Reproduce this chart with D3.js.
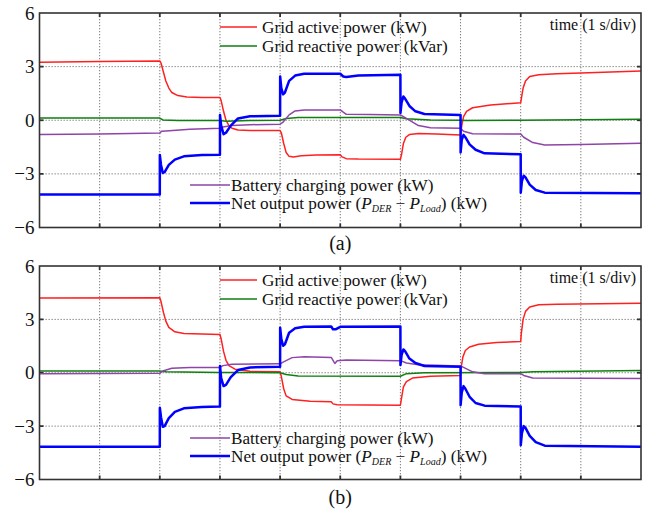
<!DOCTYPE html>
<html>
<head>
<meta charset="utf-8">
<script src="https://cdn.jsdelivr.net/npm/d3@7"></script>
<style>
  body { margin: 0; background: #fff; }
  svg text { font-family: "Palatino Linotype", "Book Antiqua", Palatino, "Liberation Serif", serif; fill: #111; }
</style>
</head>
<body>
<div id="chart-div"></div>
<script>
// time (s), power (kW / kVar)
const yTicks = [-6, -3, 0, 3, 6];
const yTickLabels = ["\u22126", "\u22123", "0", "3", "6"];
const timeDivs = [0, 1, 2, 3, 4, 5, 6, 7, 8, 9, 10];

const gridActiveA = [[0,3.25],[1,3.28],[2,3.32],[2.02,3.2],[2.06,2.7],[2.1,2.2],[2.15,1.8],[2.2,1.55],[2.3,1.38],[2.45,1.3],[2.7,1.27],[3,1.27],
  [3.02,1.1],[3.06,0.5],[3.1,0.0],[3.15,-0.3],[3.2,-0.45],[3.3,-0.55],[3.5,-0.58],[4,-0.58],[4.02,-0.7],[4.06,-1.3],[4.1,-1.8],[4.15,-2.02],
  [4.22,-2.05],[4.35,-1.98],[4.6,-1.95],[5,-1.93],[5.03,-2.05],[5.1,-2.15],[5.3,-2.17],[6,-2.18],[6.02,-1.9],[6.05,-1.3],[6.09,-0.95],
  [6.15,-0.8],[6.3,-0.74],[6.6,-0.77],[7,-0.82],[7.02,-0.3],[7.05,0.2],[7.1,0.5],[7.2,0.7],[7.5,0.85],[8,0.98],[8.01,1.2],[8.04,1.8],
  [8.08,2.2],[8.15,2.45],[8.3,2.55],[8.6,2.6],[9,2.65],[10,2.75]];
const gridReactiveA = [[0,0.12],[2,0.12],[2.05,0.02],[2.3,-0.02],[3,-0.02],[3.1,-0.05],[3.5,-0.02],[4,0.0],[4.1,0.1],[4.3,0.15],
  [6,0.15],[6.1,0.08],[6.5,0.02],[7,0.0],[7.1,-0.02],[8,0.0],[10,0.05]];
const batteryA = [[0,-0.8],[1,-0.77],[2,-0.72],[2.03,-0.62],[2.1,-0.6],[2.5,-0.5],[3,-0.45],[3.05,-0.38],[3.2,-0.3],[3.5,-0.25],[4,-0.22],
  [4.05,-0.1],[4.15,0.3],[4.25,0.52],[4.4,0.58],[5,0.58],[5.05,0.45],[5.1,0.33],[5.5,0.32],[6,0.3],[6.1,0.1],[6.3,-0.3],[6.5,-0.42],
  [7,-0.45],[7.05,-0.62],[7.2,-0.75],[8,-0.77],[8.05,-0.95],[8.2,-1.25],[8.4,-1.38],[9,-1.35],[10,-1.28]];
const netOutputA = [[0,-4.15],[2,-4.15],[2.001,-1.95],[2.02,-2.5],[2.05,-2.95],[2.08,-2.9],[2.15,-2.5],[2.25,-2.2],[2.4,-2.02],[2.7,-1.95],
  [3,-1.93],[3.001,0.3],[3.02,-0.3],[3.06,-0.78],[3.1,-0.7],[3.18,-0.3],[3.3,0.1],[3.5,0.22],[4,0.25],[4.001,2.45],[4.02,1.8],[4.05,1.45],
  [4.08,1.55],[4.15,2.2],[4.25,2.5],[4.4,2.6],[5,2.6],[5.05,2.45],[5.1,2.42],[5.3,2.5],[6,2.55],[6.001,0.4],[6.02,1.0],[6.05,1.33],
  [6.08,1.2],[6.15,0.8],[6.25,0.5],[6.4,0.35],[7,0.3],[7.001,-1.8],[7.02,-1.1],[7.05,-0.82],[7.08,-0.95],[7.15,-1.35],[7.25,-1.65],
  [7.4,-1.85],[8,-1.9],[8.001,-4.05],[8.02,-3.4],[8.05,-3.1],[8.08,-3.2],[8.15,-3.6],[8.25,-3.9],[8.4,-4.05],[10,-4.08]];

const gridActiveB = [[0,4.2],[2,4.22],[2.02,4.0],[2.06,3.4],[2.1,2.9],[2.15,2.55],[2.25,2.3],[2.4,2.2],[3,2.15],[3.02,1.9],[3.06,1.2],
  [3.1,0.7],[3.15,0.4],[3.25,0.2],[3.5,0.08],[4,0.05],[4.02,-0.2],[4.06,-0.9],[4.1,-1.3],[4.2,-1.5],[4.5,-1.6],[4.85,-1.63],[4.88,-1.75],
  [4.95,-1.8],[6,-1.82],[6.02,-1.4],[6.05,-0.8],[6.1,-0.5],[6.2,-0.3],[6.5,-0.2],[7,-0.15],[7.01,0.3],[7.04,0.9],[7.08,1.25],[7.15,1.45],
  [7.3,1.6],[7.6,1.7],[8,1.75],[8.01,2.2],[8.04,3.0],[8.08,3.45],[8.15,3.7],[8.3,3.82],[8.6,3.85],[10,3.9]];
const gridReactiveB = [[0,0.1],[2,0.1],[2.1,0.05],[3,0.02],[4,0.0],[4.1,-0.1],[4.3,-0.18],[6,-0.2],[6.1,-0.05],[6.4,0.0],[8,0.02],
  [8.2,0.05],[10,0.12]];
const batteryB = [[0,-0.05],[2,-0.03],[2.05,0.1],[2.2,0.25],[2.5,0.3],[3,0.3],[3.05,0.4],[3.2,0.48],[4,0.5],[4.05,0.6],[4.2,0.85],
  [4.4,0.9],[4.85,0.86],[4.88,0.7],[4.91,0.52],[4.95,0.68],[5.1,0.72],[6,0.68],[6.1,0.55],[6.3,0.45],[7,0.38],[7.05,0.3],[7.2,0.05],
  [7.4,-0.05],[8,-0.05],[8.05,-0.15],[8.2,-0.3],[10,-0.32]];
const netOutputB = [[0,-4.16],[2,-4.16],[2.001,-1.97],[2.02,-2.5],[2.05,-3.04],[2.08,-3.0],[2.15,-2.55],[2.25,-2.2],[2.4,-2.0],
  [2.7,-1.92],[3,-1.9],[3.001,0.38],[3.02,-0.3],[3.06,-0.75],[3.1,-0.68],[3.18,-0.25],[3.3,0.15],[3.5,0.3],[4,0.34],[4.001,2.53],
  [4.02,1.9],[4.05,1.52],[4.08,1.6],[4.15,2.25],[4.25,2.5],[4.4,2.58],[4.85,2.6],[4.88,2.44],[4.93,2.45],[5.0,2.58],[6,2.6],
  [6.001,0.43],[6.02,1.0],[6.05,1.31],[6.08,1.2],[6.15,0.8],[6.25,0.55],[6.4,0.38],[7,0.34],[7.001,-1.82],[7.02,-1.1],[7.05,-0.75],
  [7.08,-0.9],[7.15,-1.35],[7.25,-1.7],[7.4,-1.85],[8,-1.9],[8.001,-4.07],[8.02,-3.4],[8.05,-3.0],[8.08,-3.1],[8.15,-3.55],
  [8.25,-3.9],[8.4,-4.1],[10,-4.16]];

const red = "#ff2020";
const green = "#0f7f0f";
const purple = "#8e44a8";
const blue = "#0000ff";

const svg = d3.select("#chart-div")
  .append("svg")
  .attr("width", 651)
  .attr("height", 514);

drawPanel(13, 227.5, [gridActiveA, gridReactiveA, batteryA, netOutputA], "(a)", 243);
drawPanel(266, 479.5, [gridActiveB, gridReactiveB, batteryB, netOutputB], "(b)", 497);


function drawPanel(top, bottom, series, tag, tagY) {
  const left = 39.5;
  const right = 641;

  const x = d3.scaleLinear().domain([0, 10]).range([left, right]);
  const y = d3.scaleLinear().domain([-6, 6]).range([bottom, top]);
  const g = svg.append("g");

  // dotted grid
  g.selectAll(".vgrid").data(timeDivs.slice(1, -1)).enter().append("line")
    .attr("x1", d => x(d)).attr("x2", d => x(d))
    .attr("y1", top).attr("y2", bottom)
    .attr("stroke", "#7a7a7a").attr("stroke-dasharray", "1.3,1.7");
  g.selectAll(".hgrid").data(yTicks.slice(1, -1)).enter().append("line")
    .attr("x1", left).attr("x2", right)
    .attr("y1", d => y(d)).attr("y2", d => y(d))
    .attr("stroke", "#7a7a7a").attr("stroke-dasharray", "1.3,1.7");

  // inner tick marks on all four edges
  const inner = timeDivs.slice(1, -1);
  g.selectAll(".tt").data(inner).enter().append("line")
    .attr("x1", d => x(d)).attr("x2", d => x(d)).attr("y1", top).attr("y2", top + 4)
    .attr("stroke", "#333").attr("stroke-width", 1.8);
  g.selectAll(".tb").data(inner).enter().append("line")
    .attr("x1", d => x(d)).attr("x2", d => x(d)).attr("y1", bottom).attr("y2", bottom - 4)
    .attr("stroke", "#333").attr("stroke-width", 1.8);
  g.selectAll(".tl").data(yTicks.slice(1, -1)).enter().append("line")
    .attr("x1", left).attr("x2", left + 4).attr("y1", d => y(d)).attr("y2", d => y(d))
    .attr("stroke", "#333").attr("stroke-width", 1.8);
  g.selectAll(".tr").data(yTicks.slice(1, -1)).enter().append("line")
    .attr("x1", right).attr("x2", right - 4).attr("y1", d => y(d)).attr("y2", d => y(d))
    .attr("stroke", "#333").attr("stroke-width", 1.8);

  g.selectAll(".ylab").data(yTicks).enter().append("text")
    .text((d, i) => yTickLabels[i])
    .attr("x", left - 5)
    .attr("y", d => y(d) + 6.5)
    .attr("text-anchor", "end")
    .style("font-size", "19px");

  // traces
  const line = d3.line().x(d => x(d[0])).y(d => y(d[1]));
  const colors = [red, green, purple, blue];
  const widths = [1.5, 1.5, 1.5, 2.5];
  series.forEach(function(s, i) {
    g.append("path")
      .datum(s)
      .attr("d", line)
      .attr("fill", "none")
      .attr("stroke", colors[i])
      .attr("stroke-width", widths[i])
      .attr("stroke-linejoin", "round");
  });

  g.append("rect")
    .attr("x", left).attr("y", top)
    .attr("width", right - left).attr("height", bottom - top)
    .attr("fill", "none").attr("stroke", "#333").attr("stroke-width", 1.6);

  // legends
  legendRow(g, 220, 257, top + 14, red, 1.6, "Grid active power (kW)");
  legendRow(g, 220, 257, top + 33, green, 1.6, "Grid reactive power (kVar)");
  legendRow(g, 190, 230, top + 172, purple, 1.6, "Battery charging power (kW)");
  const net = legendRow(g, 190, 230, top + 190, blue, 2.4, "Net output power ");
  net.append("tspan").text("(");
  net.append("tspan").text("P").style("font-style", "italic");
  net.append("tspan").text("DER").style("font-style", "italic").style("font-size", "10px").attr("dy", 3);
  net.append("tspan").text(" \u2212 ").attr("dy", -3);
  net.append("tspan").text("P").style("font-style", "italic");
  net.append("tspan").text("Load").style("font-style", "italic").style("font-size", "10px").attr("dy", 3);
  net.append("tspan").text(") (kW)").attr("dy", -3);

  g.append("text")
    .text("time (1 s/div)")
    .attr("x", 636).attr("y", top + 17)
    .attr("text-anchor", "end")
    .style("font-size", "16px");

  g.append("text")
    .text(tag)
    .attr("x", (left + right) / 2).attr("y", tagY + 6.5)
    .attr("text-anchor", "middle")
    .style("font-size", "20px");
}


function legendRow(g, x1, x2, yPos, color, width, label) {
  g.append("line")
    .attr("x1", x1).attr("x2", x2).attr("y1", yPos).attr("y2", yPos)
    .attr("stroke", color).attr("stroke-width", width);
  return g.append("text")
    .attr("x", x2 + (x2 > 240 ? 5 : 1))
    .attr("y", yPos + 5.5)
    .style("font-size", "17.2px")
    .text(label);
}
</script>
</body>
</html>
